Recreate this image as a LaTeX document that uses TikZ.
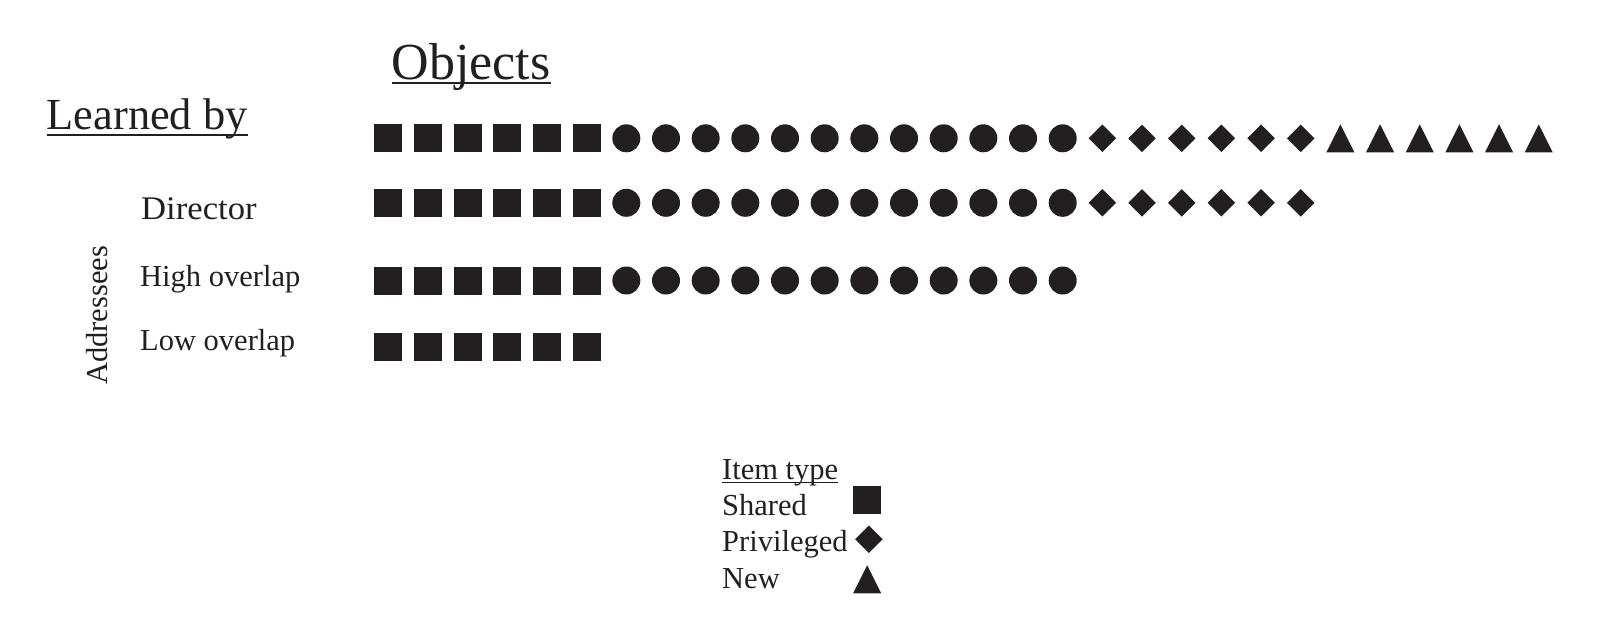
\documentclass[tikz,border=0pt]{standalone}
\usepackage{fontspec}
\setmainfont{Liberation Serif}
\usetikzlibrary{shapes.geometric}
\definecolor{itemblack}{HTML}{231F20}

\tikzset{
  item/.style={fill=itemblack, draw=none, inner sep=0pt, outer sep=0pt},
  shared/.style={item, rectangle, minimum size=28pt},
  basic/.style={item, circle, minimum size=28pt},
  privileged/.style={item, diamond, minimum size=27.5pt},
  newitem/.style={item, isosceles triangle, isosceles triangle stretches,
    shape border rotate=90, minimum width=28pt, minimum height=28pt, anchor=apex},
  rowtext/.style={anchor=base west, inner sep=0pt, text=itemblack,
    font=\fontsize{30.5}{36}\selectfont},
  underlined/.style={draw=itemblack, line width=1.8pt}
}

\begin{document}
\begin{tikzpicture}[x=1pt, y=-1pt]
  \useasboundingbox[fill=white] (0,0) rectangle (1600,635);

  % Headings
  \node[rowtext, font=\fontsize{52}{62}\selectfont] (objects) at (391.5,79.3) {Objects};
  \node[rowtext, font=\fontsize{44.4}{52}\selectfont] (learned) at (46.5,129.3) {Learned by};
  \draw[underlined] ([yshift=-4pt]objects.base west) -- ([yshift=-4pt]objects.base east);
  \draw[underlined] ([yshift=-5.7pt]learned.base west) -- ([yshift=-5.7pt]learned.base east);

  % Row labels
  \node[rowtext, font=\fontsize{33}{38}\selectfont] (director) at (141,219.3) {\scalebox{1.05}[1]{Director}};
  \node[rowtext] (high) at (140,286) {High overlap};
  \node[rowtext] (low) at (140,350.7) {Low overlap};
  \node[rowtext, anchor=base, rotate=90] (addressees) at (107.3,315.3) {Addressees};

  % Shared items (all rows)
  \foreach \row/\y in {1/138.3, 2/202.8, 3/280.5, 4/347.2}
    \foreach \k in {0,...,5}
      \node[shared] (s\row-\k) at ({388.3+39.67*\k},\y) {};

  % Circles
  \foreach \row/\y in {1/138.3, 2/202.8, 3/280.5}
    \foreach \k in {6,...,17}
      \node[basic] (c\row-\k) at ({388.3+39.67*\k},\y) {};

  % Privileged items
  \foreach \row/\y in {1/138.3, 2/202.8}
    \foreach \k in {18,...,23}
      \node[privileged] (p\row-\k) at ({388.3+39.67*\k},\y) {};

  % New items
  \foreach \k in {24,...,29}
    \node[newitem] (n1-\k) at ({388.3+39.67*\k},124.3) {};

  % Legend
  \node[rowtext] (itemtype) at (722,479.3) {Item type};
  \draw[underlined, line width=1.4pt] ([yshift=-3pt]itemtype.base west) -- ([yshift=-3pt]itemtype.base east);
  \node[rowtext] (keyshared) at (722,515) {Shared};
  \node[rowtext] (keypriv) at (722,551.7) {Privileged};
  \node[rowtext] (keynew) at (722,588.3) {New};
  \node[shared] (legshared) at (867.2,500.3) {};
  \node[privileged] (legpriv) at (868.8,539.3) {};
  \node[newitem] (legnew) at (867.2,565.3) {};
\end{tikzpicture}
\end{document}
